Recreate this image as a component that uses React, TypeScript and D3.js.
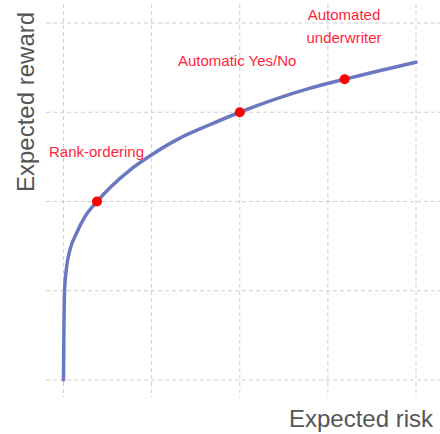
import React from "react";
import * as d3 from "d3";

const gridTicks = [0, 1, 2, 3, 4];
const curveRisk = [0, 0.004, 0.012, 0.036, 0.074, 0.15, 0.244, 0.38, 0.75, 0.98, 1.32, 1.66, 2.0, 2.8, 3.19, 4.0];
const curveReward = [0, 0.5, 1.0, 1.27, 1.46, 1.65, 1.83, 2.0, 2.35, 2.51, 2.71, 2.86, 3.0, 3.27, 3.37, 3.56];
const pointLabels = ["Rank-ordering", "Automatic Yes/No", "Automated underwriter"];
const pointRisk = [0.38, 2.0, 3.19];
const pointReward = [2.0, 3.0, 3.37];

const W = 440;
const H = 434;
const FONT = "'Liberation Sans', Arial, sans-serif";

export default function App() {
  const x = d3.scaleLinear().domain([0, 4]).range([63.5, 416]);
  const y = d3.scaleLinear().domain([0, 4]).range([380, 23]);

  const data = curveRisk.map((r, i) => [r, curveReward[i]] as [number, number]);
  const line = d3
    .line<[number, number]>()
    .x((d) => x(d[0]))
    .y((d) => y(d[1]))
    .curve(d3.curveMonotoneX);

  const labelPos = [
    { dx: 0, dy: -45, anchor: "start", ox: 49 },
    { dx: 0, dy: -46, anchor: "start", ox: 178 },
    { dx: 0, dy: -59, anchor: "middle", ox: 344 },
  ];

  return (
    <svg
      width={W}
      height={H}
      style={{ position: "absolute", left: 0, top: 0, background: "#fff" }}
    >
      <g stroke="#cfcfcf" strokeWidth={1} strokeDasharray="4,3">
        {gridTicks.map((t) => (
          <line key={"v" + t} x1={x(t)} x2={x(t)} y1={4} y2={397} />
        ))}
        {gridTicks.map((t) => (
          <line key={"h" + t} x1={46} x2={440} y1={y(t)} y2={y(t)} />
        ))}
      </g>
      <path
        d={line(data) || ""}
        fill="none"
        stroke="#6b78bf"
        strokeWidth={3.5}
        strokeLinecap="round"
      />
      {pointRisk.map((r, i) => (
        <circle key={i} cx={x(r)} cy={y(pointReward[i])} r={5} fill="#ff0000" />
      ))}
      <g fontFamily={FONT} fontSize={15} fill="#ff1f3d">
        <text x={labelPos[0].ox} y={y(pointReward[0]) + labelPos[0].dy}>
          {pointLabels[0]}
        </text>
        <text x={labelPos[1].ox} y={y(pointReward[1]) + labelPos[1].dy}>
          {pointLabels[1]}
        </text>
        <text x={labelPos[2].ox} y={y(pointReward[2]) + labelPos[2].dy} textAnchor="middle">
          <tspan x={labelPos[2].ox} dy={0}>Automated</tspan>
          <tspan x={labelPos[2].ox} dy={23}>underwriter</tspan>
        </text>
      </g>
      <g fontFamily={FONT} fontSize={24} fill="#555">
        <text x={433} y={427} textAnchor="end">
          Expected risk
        </text>
        <text transform="translate(34,192) rotate(-90)">Expected reward</text>
      </g>
    </svg>
  );
}
